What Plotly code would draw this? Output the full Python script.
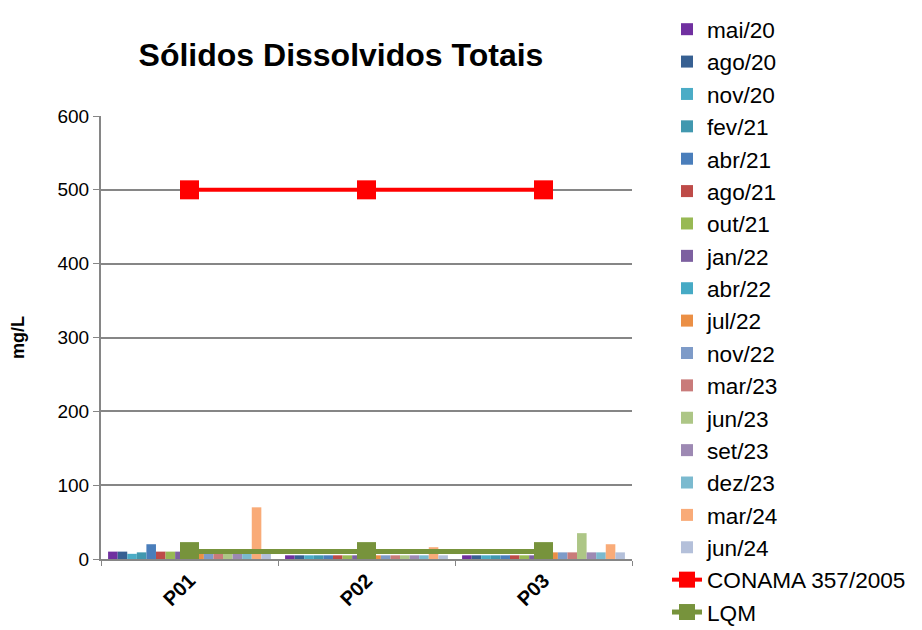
import plotly.graph_objects as go

# Pontos de amostragem
pontos = ['P01', 'P02', 'P03']

# Campanhas (legenda) e cores
campanhas = ['mai/20', 'ago/20', 'nov/20', 'fev/21', 'abr/21', 'ago/21', 'out/21',
             'jan/22', 'abr/22', 'jul/22', 'nov/22', 'mar/23', 'jun/23', 'set/23',
             'dez/23', 'mar/24', 'jun/24']
cores = ['#7030A0', '#376092', '#4BACC6', '#4198AF', '#4A7EBB', '#BE4B48', '#98B954',
         '#7D60A0', '#46AAC5', '#EB8F45', '#7E9BC8', '#C97B7A', '#ADC686', '#9D89B3',
         '#7BBACF', '#F9AB78', '#B4C0DA']

# Valores de SDT (mg/L) por campanha, em P01, P02, P03
valores = {
    'mai/20': [10, 5, 5],
    'ago/20': [10, 5, 5],
    'nov/20': [7, 5, 5],
    'fev/21': [9, 5, 5],
    'abr/21': [20, 5, 5],
    'ago/21': [10, 5, 5],
    'out/21': [10, 5, 5],
    'jan/22': [10, 5, 5],
    'abr/22': [10, 5, 5],
    'jul/22': [8, 5, 9],
    'nov/22': [8, 5, 9],
    'mar/23': [8, 5, 9],
    'jun/23': [8, 5, 35],
    'set/23': [8, 5, 9],
    'dez/23': [8, 5, 9],
    'mar/24': [70, 16, 20],
    'jun/24': [8, 5, 9],
}

# Limites
conama = [500, 500, 500]
lqm = [10, 10, 10]

fig = go.Figure()

for camp, cor in zip(campanhas, cores):
    fig.add_trace(go.Bar(
        x=pontos,
        y=valores[camp],
        name=camp,
        marker=dict(color=cor, line=dict(width=0)),
    ))

fig.add_trace(go.Scatter(
    x=pontos, y=conama, name='CONAMA 357/2005', mode='lines+markers',
    line=dict(color='#FF0000', width=4),
    marker=dict(symbol='square', size=19, color='#FF0000'),
))

fig.add_trace(go.Scatter(
    x=pontos, y=lqm, name='LQM', mode='lines+markers',
    line=dict(color='#77933C', width=5),
    marker=dict(symbol='square', size=19, color='#77933C'),
))

# a pagina tem margem de 8px, por isso 914x622
fig.update_layout(
    width=914, height=622,
    paper_bgcolor='white', plot_bgcolor='white',
    font=dict(family='Liberation Sans, Arial', color='black'),
    title=dict(text='<b>Sólidos Dissolvidos Totais</b>', x=0.3643, xanchor='center',
               y=0.9244, yanchor='middle', font=dict(size=32)),
    margin=dict(l=93, r=290, t=108, b=71),
    barmode='group', bargap=0.08, bargroupgap=0,
    legend=dict(xref='container', yref='container',
                x=0.721, xanchor='left', y=1.0, yanchor='top',
                font=dict(size=22.6), tracegroupgap=0, maxheight=700,
                bgcolor='rgba(0,0,0,0)'),
    showlegend=True,
)

fig.update_xaxes(
    automargin=False,
    showline=True, linecolor='#868686', linewidth=2,
    ticks='outside', tickson='boundaries', ticklen=5, tickcolor='#868686',
    tickangle=-45, tickfont=dict(size=20, family='Liberation Sans, Arial'),
    tickprefix='<b>', ticksuffix='</b>',
    showgrid=False,
)

fig.update_yaxes(
    automargin=False,
    range=[0, 600], dtick=100,
    showline=True, linecolor='#868686', linewidth=2,
    ticks='outside', ticklen=6, tickcolor='#868686',
    showgrid=True, gridcolor='#868686', gridwidth=1.5,
    tickfont=dict(size=19),
    title=dict(text='<b>mg/L</b>', font=dict(size=18), standoff=30),
    zeroline=False,
)

fig.write_html('out.html')
